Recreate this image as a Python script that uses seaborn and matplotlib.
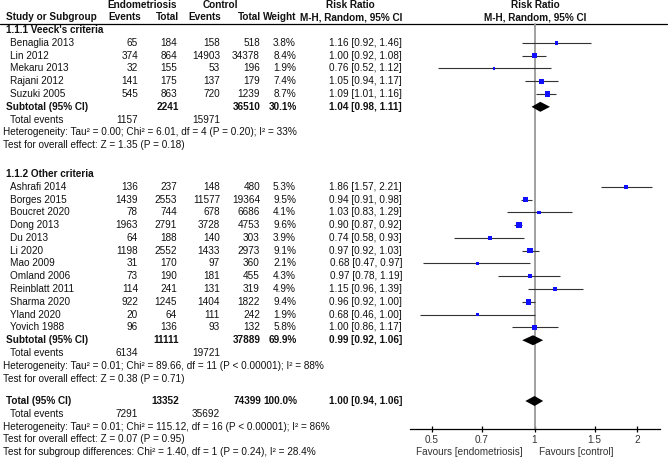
import matplotlib
matplotlib.use('Agg')
import matplotlib.pyplot as plt
import matplotlib.ticker as mticker
import seaborn as sns
import pandas as pd

# 1.1.1 Veeck's criteria
veeck_studies = ['Benaglia 2013', 'Lin 2012', 'Mekaru 2013', 'Rajani 2012', 'Suzuki 2005']
veeck_endo_events = [65, 374, 32, 141, 545]
veeck_endo_total = [184, 864, 155, 175, 863]
veeck_ctrl_events = [158, 14903, 53, 137, 720]
veeck_ctrl_total = [518, 34378, 196, 179, 1239]
veeck_weight = [3.8, 8.4, 1.9, 7.4, 8.7]
veeck_rr = [1.16, 1.00, 0.76, 1.05, 1.09]
veeck_lo = [0.92, 0.92, 0.52, 0.94, 1.01]
veeck_hi = [1.46, 1.08, 1.12, 1.17, 1.16]

# 1.1.2 Other criteria
other_studies = ['Ashrafi 2014', 'Borges 2015', 'Boucret 2020', 'Dong 2013', 'Du 2013', 'Li 2020',
                 'Mao 2009', 'Omland 2006', 'Reinblatt 2011', 'Sharma 2020', 'Yland 2020', 'Yovich 1988']
other_endo_events = [136, 1439, 78, 1963, 64, 1198, 31, 73, 114, 922, 20, 96]
other_endo_total = [237, 2553, 744, 2791, 188, 2552, 170, 190, 241, 1245, 64, 136]
other_ctrl_events = [148, 11577, 678, 3728, 140, 1433, 97, 181, 131, 1404, 111, 93]
other_ctrl_total = [480, 19364, 6686, 4753, 303, 2973, 360, 455, 319, 1822, 242, 132]
other_weight = [5.3, 9.5, 4.1, 9.6, 3.9, 9.1, 2.1, 4.3, 4.9, 9.4, 1.9, 5.8]
other_rr = [1.86, 0.94, 1.03, 0.90, 0.74, 0.97, 0.68, 0.97, 1.15, 0.96, 0.68, 1.00]
other_lo = [1.57, 0.91, 0.83, 0.87, 0.58, 0.92, 0.47, 0.78, 0.96, 0.92, 0.46, 0.86]
other_hi = [2.21, 0.98, 1.29, 0.92, 0.93, 1.03, 0.97, 1.19, 1.39, 1.00, 1.00, 1.17]

# pooled results: subtotal 1, subtotal 2, overall
pooled_labels = ['Subtotal (95% CI)', 'Subtotal (95% CI)', 'Total (95% CI)']
pooled_endo_total = [2241, 11111, 13352]
pooled_ctrl_total = [36510, 37889, 74399]
pooled_weight = ['30.1%', '69.9%', '100.0%']
pooled_rr = [1.04, 0.99, 1.00]
pooled_lo = [0.98, 0.92, 0.94]
pooled_hi = [1.11, 1.06, 1.06]
pooled_endo_events = [1157, 6134, 7291]
pooled_ctrl_events = [15971, 19721, 35692]
heterogeneity = [
    'Heterogeneity: Tau\u00b2 = 0.00; Chi\u00b2 = 6.01, df = 4 (P = 0.20); I\u00b2 = 33%',
    'Heterogeneity: Tau\u00b2 = 0.01; Chi\u00b2 = 89.66, df = 11 (P < 0.00001); I\u00b2 = 88%',
    'Heterogeneity: Tau\u00b2 = 0.01; Chi\u00b2 = 115.12, df = 16 (P < 0.00001); I\u00b2 = 86%',
]
overall_tests = [
    'Test for overall effect: Z = 1.35 (P = 0.18)',
    'Test for overall effect: Z = 0.38 (P = 0.71)',
    'Test for overall effect: Z = 0.07 (P = 0.95)',
]
subgroup_test = 'Test for subgroup differences: Chi\u00b2 = 1.40, df = 1 (P = 0.24), I\u00b2 = 28.4%'

ticks = [0.5, 0.7, 1, 1.5, 2]
tick_labels = ['0.5', '0.7', '1', '1.5', '2']

sns.set_style('white')
plt.rcParams['font.family'] = ['Liberation Sans', 'DejaVu Sans']
fs = 7.2
tc = '#111111'

fig = plt.figure(figsize=(6.69, 4.62), dpi=100)
ax = fig.add_axes([0, 0, 1, 1])
ax.set_xlim(0, 669)
ax.set_ylim(462, 0)
ax.axis('off')

h = 12.79
def ypos(r):
    return 4.5 + r * h

# column right edges
c_ev1, c_tot1, c_ev2, c_tot2, c_w, c_rr = 138, 177, 220, 260, 296, 402

def txt(x, y, s, ha='right', bold=False):
    ax.text(x, y, s, ha=ha, va='center', fontsize=fs, color=tc,
            fontweight='bold' if bold else 'normal')

# header
txt(142, ypos(0), 'Endometriosis', ha='center', bold=True)
txt(220, ypos(0), 'Control', ha='center', bold=True)
txt(350, ypos(0), 'Risk Ratio', ha='center', bold=True)
txt(535, ypos(0), 'Risk Ratio', ha='center', bold=True)
txt(6, ypos(1), 'Study or Subgroup', ha='left', bold=True)
for x, s in [(c_ev1 + 3, 'Events'), (c_tot1 + 2, 'Total'), (c_ev2 + 1, 'Events'),
             (c_tot2 + 1, 'Total'), (c_w, 'Weight'), (c_rr, 'M-H, Random, 95% CI')]:
    txt(x, ypos(1), s, bold=True)
txt(535, ypos(1), 'M-H, Random, 95% CI', ha='center', bold=True)
ax.plot([0, 667], [23.5, 23.5], color='black', lw=0.9)

groups = [
    ("1.1.1 Veeck's criteria", veeck_studies, veeck_endo_events, veeck_endo_total,
     veeck_ctrl_events, veeck_ctrl_total, veeck_weight, veeck_rr, veeck_lo, veeck_hi, 2),
    ('1.1.2 Other criteria', other_studies, other_endo_events, other_endo_total,
     other_ctrl_events, other_ctrl_total, other_weight, other_rr, other_lo, other_hi, 13.25),
]

study_rows = []
pooled_rows = []
for gi, (title, names, e1, t1, e2, t2, w, rr, lo, hi, r0) in enumerate(groups):
    txt(6, ypos(r0), title, ha='left', bold=True)
    r = r0 + 1
    for i in range(len(names)):
        y = ypos(r)
        txt(10, y, names[i], ha='left')
        txt(c_ev1, y, str(e1[i]))
        txt(c_tot1, y, str(t1[i]))
        txt(c_ev2, y, str(e2[i]))
        txt(c_tot2, y, str(t2[i]))
        txt(c_w, y, '%.1f%%' % w[i])
        txt(c_rr, y, '%.2f [%.2f, %.2f]' % (rr[i], lo[i], hi[i]))
        study_rows.append(dict(y=y, rr=rr[i], lo=lo[i], hi=hi[i], weight=w[i]))
        r += 1
    pooled_rows.append(r)

pooled_rows.append(31)
for k, r in enumerate(pooled_rows):
    y = ypos(r)
    txt(6, y, pooled_labels[k], ha='left', bold=True)
    txt(c_tot1 + 2, y, str(pooled_endo_total[k]), bold=True)
    txt(c_tot2 + 1, y, str(pooled_ctrl_total[k]), bold=True)
    txt(c_w + 1, y, pooled_weight[k], bold=True)
    txt(c_rr, y, '%.2f [%.2f, %.2f]' % (pooled_rr[k], pooled_lo[k], pooled_hi[k]), bold=True)
    txt(10, ypos(r + 1), 'Total events', ha='left')
    txt(c_ev1, ypos(r + 1), str(pooled_endo_events[k]))
    txt(c_ev2, ypos(r + 1), str(pooled_ctrl_events[k]))
    txt(3, ypos(r + 2), heterogeneity[k], ha='left')
    txt(3, ypos(r + 3), overall_tests[k], ha='left')
txt(3, ypos(35), subgroup_test, ha='left')

# forest panel
axf = fig.add_axes([410 / 669, (462 - 429) / 462, 250 / 669, 429 / 462])
axf.patch.set_visible(False)
axf.set_xscale('log')
axf.set_xlim(0.431, 2.335)
axf.set_ylim(429, 0)

df = pd.DataFrame(study_rows)
axf.plot([1, 1], [23.5, 429], color='#9a9a9a', lw=1.3, zorder=1)
axf.hlines(df['y'], df['lo'], df['hi'], color='#333333', lw=0.8, zorder=2)
sns.scatterplot(data=df, x='rr', y='y', size='weight', sizes=(3.2, 16.2), size_norm=(1.9, 9.6),
                marker='s', color='#1010ff', linewidth=0, legend=False, ax=axf, zorder=3)

for k, r in enumerate(pooled_rows):
    y = ypos(r)
    axf.fill([pooled_lo[k], pooled_rr[k], pooled_hi[k], pooled_rr[k]],
             [y, y - 5, y, y + 5], color='black', lw=0, zorder=4)

for s in ['top', 'right', 'left']:
    axf.spines[s].set_visible(False)
axf.spines['bottom'].set_color('black')
axf.spines['bottom'].set_linewidth(0.9)
axf.set_yticks([])
axf.set_xticks(ticks)
axf.set_xticklabels(tick_labels)
axf.xaxis.set_minor_locator(mticker.NullLocator())
axf.tick_params(axis='x', direction='inout', length=5, width=0.9, color='black',
                labelsize=fs, labelcolor='#333333', pad=1.5, bottom=True)
axf.set_xlabel('')
axf.set_ylabel('')

ax.text(523, 452, 'Favours [endometriosis]', ha='right', va='center', fontsize=fs, color='#333333')
ax.text(539, 452, 'Favours [control]', ha='left', va='center', fontsize=fs, color='#333333')

fig.savefig('out.png', dpi=100)
